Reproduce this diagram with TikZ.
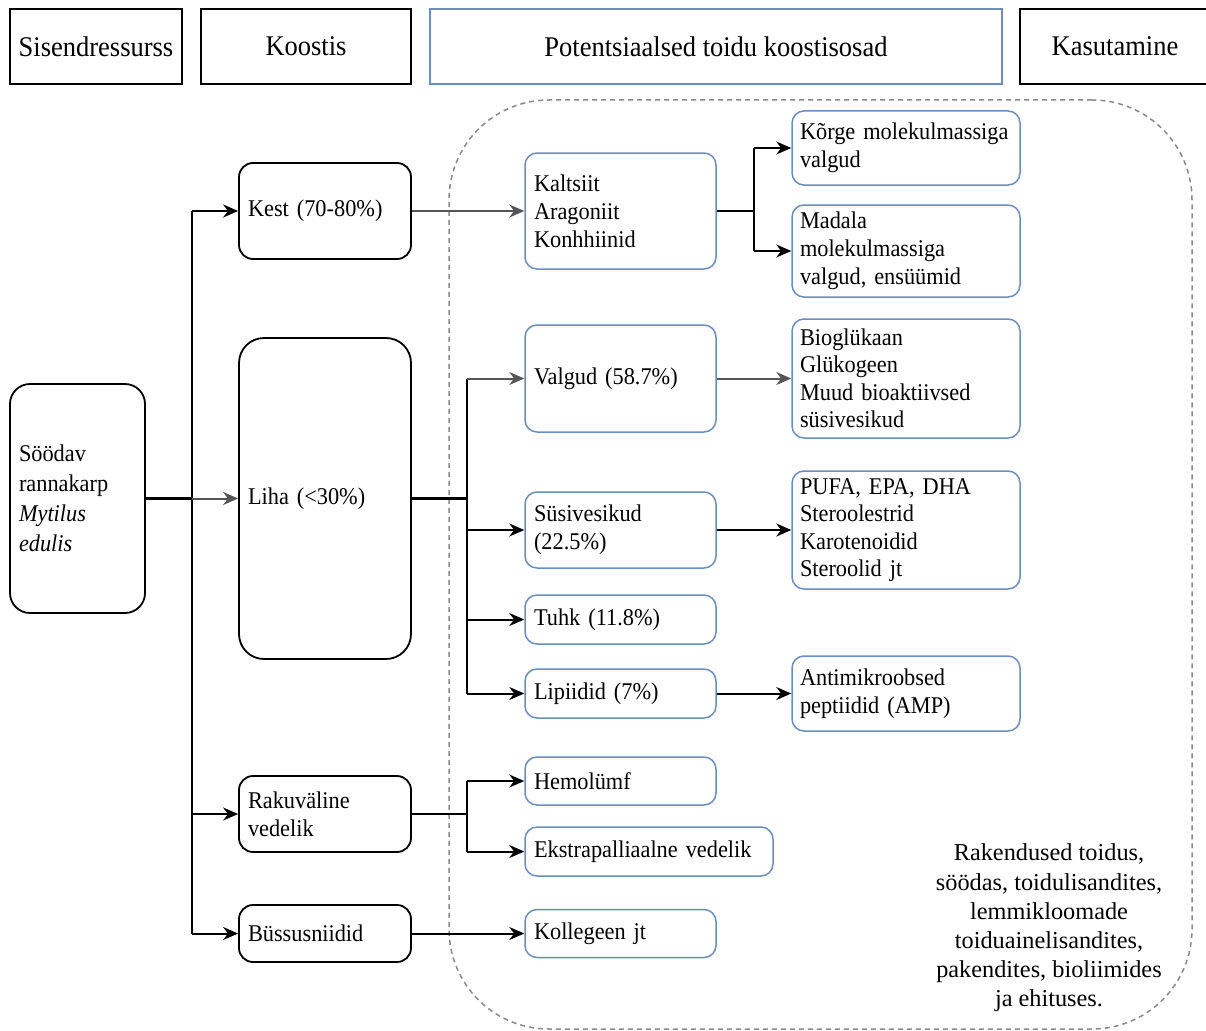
\documentclass[tikz,border=0pt]{standalone}
\usepackage{fontspec}
\setmainfont{Liberation Serif}[FakeStretch=0.93]
\newfontfamily\notefont{Liberation Serif}
\usetikzlibrary{arrows.meta}
\definecolor{bl}{HTML}{6C8EBF}
\definecolor{dg}{HTML}{8A8A8A}
\definecolor{ga}{HTML}{555555}
\begin{document}
\begin{tikzpicture}[x=1pt,y=-1pt,
 font=\fontsize{24}{28}\selectfont,
 base/.style={inner xsep=9pt, inner ysep=0pt, align=left},
 bbox/.style={base, draw=black, line width=1.8pt, rounded corners=14pt},
 bluebox/.style={base, draw=bl, line width=1.5pt, rounded corners=12pt},
 hdr/.style={draw=black, line width=1.8pt, font=\fontsize{28.5}{32}\selectfont, inner sep=0pt, align=center, minimum height=75pt},
 arr/.style={line width=2pt, -{Stealth[length=15pt,width=13pt]}},
 ln/.style={line width=2pt},
 thk/.style={line width=2.8pt},
]
\useasboundingbox (0,0) rectangle (1206,1030);
\clip (0,0) rectangle (1206,1030);

% headers
\node[hdr, minimum width=172pt] (h1) at (96,46.5) {Sisendressurss};
\node[hdr, minimum width=210pt] (h2) at (306,46.5) {Koostis};
\node[hdr, draw=bl, line width=1.5pt, minimum width=572pt] (h3) at (716,46.5) {Potentsiaalsed toidu koostisosad};
\node[hdr, minimum width=190pt] (h4) at (1115,46.5) {Kasutamine};

% dashed group
\node[draw=dg, line width=1.5pt, dash pattern=on 5pt off 4pt, rounded corners=100pt, minimum width=743pt, minimum height=929pt, inner sep=0pt] (grp) at (820.5,564.5) {};

% source
\node[bbox, rounded corners=20pt, minimum height=229pt, text width=117pt, font=\fontsize{24}{30}\selectfont] (src) at (77.5,498.5) {Söödav\\rannakarp\\\textit{Mytilus}\\\textit{edulis}};

% column 2
\node[bbox, minimum height=96pt, text width=154pt] (kest) at (325,211) {Kest (70-80\%)};
\node[bbox, rounded corners=25pt, minimum height=321pt, text width=154pt] (liha) at (325,498.5) {Liha (<30\%)};
\node[bbox, minimum height=76pt, text width=154pt] (raku) at (325,814) {Rakuväline\\vedelik};
\node[bbox, minimum height=57pt, text width=154pt] (bys) at (325,933.5) {Büssusniidid};

% column 3
\node[bluebox, minimum height=116pt, text width=173pt] (kal) at (620.5,211) {Kaltsiit\\Aragoniit\\Konhhiinid};
\node[bluebox, minimum height=107pt, text width=173pt] (val) at (620.5,378.5) {Valgud (58.7\%)};
\node[bluebox, minimum height=76pt, text width=173pt] (sus) at (620.5,530) {Süsivesikud\\(22.5\%)};
\node[bluebox, minimum height=49pt, text width=173pt] (tuhk) at (620.5,619.5) {Tuhk (11.8\%)};
\node[bluebox, minimum height=49pt, text width=173pt] (lip) at (620.5,693.5) {Lipiidid (7\%)};
\node[bluebox, minimum height=48pt, text width=173pt] (hem) at (620.5,781) {Hemolümf};
\node[bluebox, minimum height=49pt, text width=230pt] (eks) at (649,851.5) {Ekstrapalliaalne vedelik};
\node[bluebox, minimum height=48pt, text width=173pt] (kol) at (620.5,933.5) {Kollegeen jt};

% column 4
\node[bluebox, inner xsep=8pt, minimum height=74pt, text width=212pt] (kor) at (906,148) {Kõrge molekulmassiga\\valgud};
\node[bluebox, inner xsep=8pt, minimum height=92pt, text width=212pt] (mad) at (906,251) {Madala\\molekulmassiga\\valgud, ensüümid};
\node[bluebox, inner xsep=8pt, minimum height=119pt, text width=212pt, font=\fontsize{24}{27.5}\selectfont] (bio) at (906,378.5) {Bioglükaan\\Glükogeen\\Muud bioaktiivsed\\süsivesikud};
\node[bluebox, inner xsep=8pt, minimum height=118pt, text width=212pt, font=\fontsize{24}{27.5}\selectfont] (pufa) at (906,530) {PUFA, EPA, DHA\\Steroolestrid\\Karotenoidid\\Steroolid jt};
\node[bluebox, inner xsep=8pt, minimum height=75pt, text width=212pt] (amp) at (906,693.5) {Antimikroobsed\\peptiidid (AMP)};

% note
\node[align=center, inner sep=0pt, font=\notefont\fontsize{24.3}{29.2}\selectfont] (note) at (1049,928) {Rakendused toidus,\\söödas, toidulisandites,\\lemmikloomade\\toiduainelisandites,\\pakendites, bioliimides\\ja ehituses.};

% connector helper coordinates
\coordinate (tx) at (192,0);
\coordinate (bx) at (467,0);
\coordinate (cx) at (754,0);

% trunk
\draw[thk] (src.east) -- (src.east -| tx);
\draw[ln] (tx |- kest.west) -- (tx |- bys.west);
\draw[arr] (tx |- kest.west) -- (kest.west);
\draw[arr, ga] (src.east -| tx) -- (liha.west);
\draw[arr] (tx |- raku.west) -- (raku.west);
\draw[arr] (tx |- bys.west) -- (bys.west);

% kest
\draw[arr, ga] (kest.east) -- (kal.west);
\draw[thk] (kal.east) -- (kal.east -| cx);
\draw[ln] (cx |- kor.west) -- (cx |- mad.west);
\draw[arr] (cx |- kor.west) -- (kor.west);
\draw[arr] (cx |- mad.west) -- (mad.west);

% liha
\draw[thk] (liha.east) -- (liha.east -| bx);
\draw[ln] (bx |- val.west) -- (bx |- lip.west);
\draw[arr, ga] (bx |- val.west) -- (val.west);
\draw[arr] (bx |- sus.west) -- (sus.west);
\draw[arr] (bx |- tuhk.west) -- (tuhk.west);
\draw[arr] (bx |- lip.west) -- (lip.west);
\draw[arr, ga] (val.east) -- (bio.west);
\draw[arr] (sus.east) -- (pufa.west);
\draw[arr] (lip.east) -- (amp.west);

% raku
\draw[ln] (raku.east) -- (raku.east -| bx);
\draw[ln] (bx |- hem.west) -- (bx |- eks.west);
\draw[arr] (bx |- hem.west) -- (hem.west);
\draw[arr] (bx |- eks.west) -- (eks.west);

% bys
\draw[arr] (bys.east) -- (kol.west);
\end{tikzpicture}
\end{document}
